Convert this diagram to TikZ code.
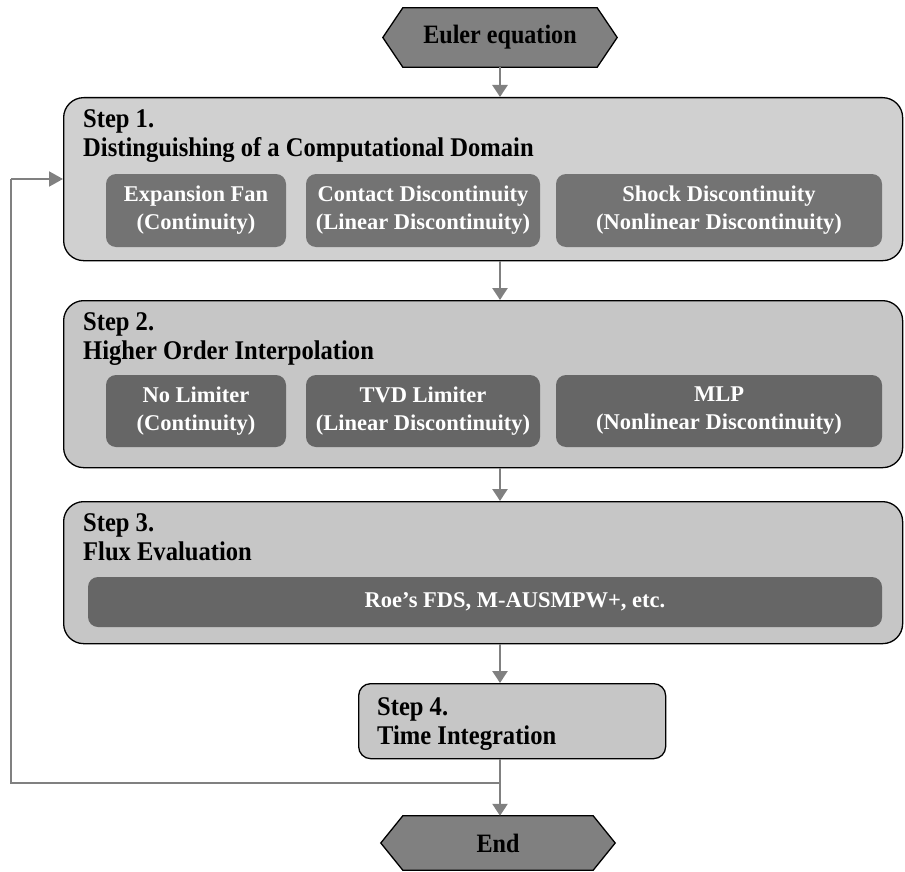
\documentclass[tikz,border=0pt]{standalone}
\usepackage{fontspec}
\setmainfont{Liberation Serif}[FakeStretch=0.91]
\newfontfamily\plainserif{Liberation Serif}
\usetikzlibrary{arrows.meta}
\pgfdeclarelayer{bg}
\pgfsetlayers{bg,main}
\definecolor{outerA}{HTML}{D0D0D0}
\definecolor{outerB}{HTML}{C6C6C6}
\definecolor{innerA}{HTML}{737373}
\definecolor{innerB}{HTML}{666666}
\definecolor{hexfill}{HTML}{808080}
\definecolor{arrgray}{HTML}{808080}
\begin{document}
\begin{tikzpicture}[x=1pt,y=-1pt,
  outerbox/.style={draw=black, line width=1.3pt, rounded corners=20pt, anchor=north west, inner sep=0pt},
  innerbox/.style={rounded corners=10pt, text=white, font=\plainserif\bfseries\fontsize{22.5}{28}\selectfont, align=center, inner sep=0pt},
  steplabel/.style={anchor=north west, align=left, font=\bfseries\fontsize{27}{29}\selectfont, inner sep=0pt},
  hexlabel/.style={font=\bfseries\fontsize{26.5}{30}\selectfont, inner sep=0pt},
  hexshape/.style={draw=black, fill=hexfill, line width=1.3pt},
  flow/.style={draw=arrgray, line width=2.5pt, -{Triangle[width=15pt,length=12pt]}},
  loopline/.style={draw=arrgray, line width=2pt},
]
\useasboundingbox (0,0) rectangle (905,872);

% hexagons
\node[hexlabel, minimum width=194pt, minimum height=59pt] (euler) at (500,37.5) {Euler equation};
\node[hexlabel, minimum width=190pt, minimum height=54pt] (end) at (498,843) {End};
\begin{pgfonlayer}{bg}
\draw[hexshape] (euler.north west) -- (euler.north east) -- ([xshift=20pt]euler.east) -- (euler.south east) -- (euler.south west) -- ([xshift=-20pt]euler.west) -- cycle;
\draw[hexshape] (end.north west) -- (end.north east) -- ([xshift=22pt]end.east) -- (end.south east) -- (end.south west) -- ([xshift=-22pt]end.west) -- cycle;
\end{pgfonlayer}

% step boxes
\node[outerbox, fill=outerA, minimum width=839pt, minimum height=163pt] (s1) at (63,97) {};
\node[outerbox, fill=outerB, minimum width=839pt, minimum height=167pt] (s2) at (63,300) {};
\node[outerbox, fill=outerB, minimum width=839pt, minimum height=142pt] (s3) at (63,501) {};
\node[outerbox, fill=outerB, rounded corners=12pt, minimum width=307pt, minimum height=75pt] (s4) at (358,683) {};

% step labels
\node[steplabel] (s1t) at (83,109) {Step 1.\\Distinguishing of a Computational Domain};
\node[steplabel] (s2t) at (83,312) {Step 2.\\Higher Order Interpolation};
\node[steplabel] (s3t) at (83,513) {Step 3.\\Flux Evaluation};
\node[steplabel] (s4t) at (377,697) {Step 4.\\Time Integration};

% inner boxes step 1
\node[innerbox, fill=innerA, minimum width=180pt, minimum height=73pt] (b11) at (196,210.5) {Expansion Fan\\(Continuity)};
\node[innerbox, fill=innerA, minimum width=234pt, minimum height=73pt] (b12) at (423,210.5) {Contact Discontinuity\\(Linear Discontinuity)};
\node[innerbox, fill=innerA, minimum width=326pt, minimum height=73pt] (b13) at (719,210.5) {Shock Discontinuity\\(Nonlinear Discontinuity)};

% inner boxes step 2
\node[innerbox, fill=innerB, minimum width=180pt, minimum height=72pt] (b21) at (196,411) {No Limiter\\(Continuity)};
\node[innerbox, fill=innerB, minimum width=234pt, minimum height=72pt] (b22) at (423,411) {TVD Limiter\\(Linear Discontinuity)};
\node[innerbox, fill=innerB, minimum width=326pt, minimum height=72pt] (b23) at (719,411) {MLP\\(Nonlinear Discontinuity)};

% inner box step 3
\node[innerbox, fill=innerB, minimum width=794pt, minimum height=50pt] (b31) at (485,602) {};
\node[innerbox] (b31t) at (515,602) {Roe’s FDS, M-AUSMPW+, etc.};

% connectors
\coordinate (cx) at (500,0);
\draw[flow] (euler.south) -- (euler.south |- s1.north);
\draw[flow] (cx |- s1.south) -- (cx |- s2.north);
\draw[flow] (cx |- s2.south) -- (cx |- s3.north);
\draw[flow] (cx |- s3.south) -- (cx |- s4.north);
\draw[flow] (cx |- s4.south) -- (cx |- end.north);
\coordinate (fb) at (500,783);
\coordinate (lp) at (11,179);
\draw[loopline] (fb) -| (lp);
\draw[loopline, -{Triangle[width=15pt,length=14pt]}] (lp) -- (lp -| s1.west);
\end{tikzpicture}
\end{document}
